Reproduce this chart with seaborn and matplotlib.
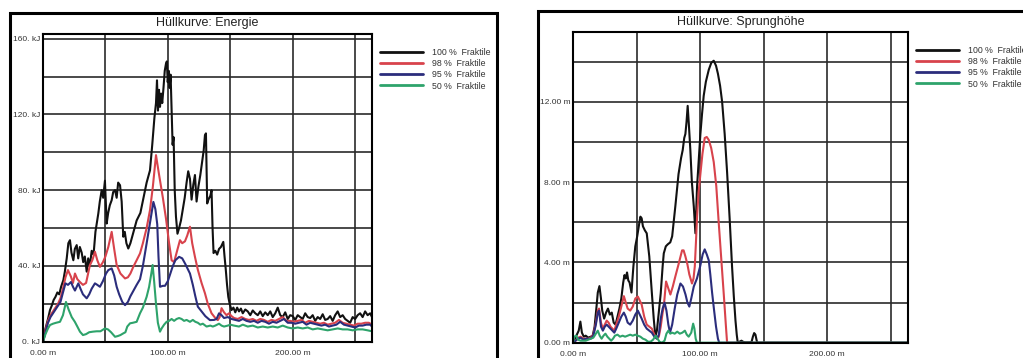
import matplotlib
matplotlib.use("Agg")
import matplotlib.pyplot as plt
import pandas as pd
import seaborn as sns
from matplotlib.patches import Rectangle

sns.set_theme(style="white")
plt.rcParams["font.family"] = ["Liberation Sans", "DejaVu Sans"]

# ---------------- data ----------------
SERIES_LABELS = ["100 %  Fraktile", "98 %  Fraktile", "95 %  Fraktile", "50 %  Fraktile"]
SERIES_COLORS = ["#111111", "#d8434c", "#2b2d7c", "#2ea36b"]

X_TICKS = [0, 50, 100, 150, 200, 250]
X_TICK_LABELS = ["0.00 m", "", "100.00 m", "", "200.00 m", ""]

E_Y_TICKS = [0, 20, 40, 60, 80, 100, 120, 140, 160]
E_Y_TICK_LABELS = ["0. kJ", "", "40. kJ", "", "80. kJ", "", "120. kJ", "", "160. kJ"]

S_Y_TICKS = [0, 2, 4, 6, 8, 10, 12, 14]
S_Y_TICK_LABELS = ["0.00 m", "", "4.00 m", "", "8.00 m", "", "12.00 m", ""]

# Energie (distance m, energy kJ)
ENERGIE_100 = [
    (0, 0), (2, 7), (4, 12), (5.6, 16.7), (7, 19), (8.5, 22), (10, 23.7), (11.5, 26), (13, 25),
    (14.5, 29), (16.3, 32.5), (17.5, 37), (19, 44), (20.3, 52), (21.6, 53.6), (22.8, 47),
    (24.3, 43), (25.5, 49), (27, 51), (28.2, 44), (29.5, 50), (31, 47), (32.2, 42), (33.5, 45),
    (35, 37), (36.2, 44), (37.5, 40), (39, 48), (40.5, 46), (42, 58), (44.3, 67.7), (45.5, 74),
    (47, 80), (48.2, 76), (49.6, 85), (51, 62.4), (52.2, 68), (53.5, 72), (55, 74.7), (56.2, 79),
    (57.7, 80), (59, 76), (60.2, 84), (61.7, 82.6), (63, 74), (64.3, 55.4), (65.5, 58), (66.8, 52),
    (68.3, 49.2), (70, 52), (72.5, 58), (75, 64), (78, 68), (80.5, 76), (83, 84), (85.7, 90.5),
    (87.5, 104), (89.2, 118), (90.5, 126), (91.3, 138), (92.1, 122), (92.9, 133), (93.7, 124),
    (94.6, 131), (95.5, 126), (96.5, 134), (97.5, 143), (98.5, 146.8), (99.2, 148), (99.9, 137),
    (100.7, 143), (101.4, 134), (102.2, 141), (103, 122), (103.8, 104), (104.6, 108), (105.5, 80),
    (106.5, 66), (107.7, 57), (109, 60), (110.5, 64), (112, 70), (113.5, 76), (115, 84),
    (116.3, 90), (117.7, 86), (119, 75), (120.4, 83), (121.7, 88), (123, 74), (124.5, 82),
    (126, 88), (127.5, 95), (128.7, 101), (129.7, 109), (130.5, 110), (131, 92), (131.5, 73),
    (132.5, 75), (134, 77), (135, 80), (135.8, 60), (136.6, 46.8), (138, 48), (139.5, 46),
    (141, 49), (142.5, 50), (144.4, 52.7), (145.4, 45), (146.4, 38), (147.4, 30), (148.4, 23.7),
    (149.5, 20), (151, 16.7), (152.5, 18), (154, 15.5), (155.5, 18), (157, 16), (158.5, 17.5),
    (160, 15), (162, 17), (164, 16), (166, 14), (168, 16.5), (170, 15), (172, 14), (174, 16),
    (176, 13.5), (178, 15.5), (180, 14), (182, 16), (184, 13), (186, 15), (188, 18), (190, 14),
    (192, 13), (194, 15.5), (196, 12), (198, 14), (200, 13.5), (202, 11.5), (204, 14), (206, 13),
    (208, 12), (210, 15), (212, 13), (214, 12.5), (216, 14), (218, 11), (220, 13), (222, 12),
    (224, 14.5), (226, 11.5), (228, 12), (230, 13.5), (232, 11), (234, 14), (236, 16), (238, 13),
    (240, 14), (242, 12), (244, 11), (246, 10), (248, 13), (250, 12), (252, 14), (254, 15),
    (256, 13), (258, 16), (260, 14), (262, 15), (263.5, 13),
]
ENERGIE_98 = [
    (0, 0), (2, 6), (4, 11), (6, 14), (8, 16), (10, 18), (12, 20), (14, 23), (16, 28), (18, 34),
    (20, 37.8), (22.4, 34.3), (24, 31), (25.6, 36), (27.5, 33), (29.6, 31.5), (32, 30), (34.5, 31),
    (37.6, 40.5), (39.5, 43), (41.6, 47.5), (43.5, 43), (45.6, 39.5), (48, 42), (50, 45),
    (52.3, 50), (55, 58), (57, 49), (59, 40.5), (62, 36), (65.7, 33.4), (68, 34), (70, 36),
    (72.3, 39.5), (75, 43), (77.7, 46.6), (80, 52), (83, 60), (85.7, 69.5), (88, 82), (90.5, 98.5),
    (93, 88), (96, 76), (98.5, 65), (101, 52), (103, 43), (105, 42), (107, 47), (109.7, 53.6),
    (111.5, 52), (113.7, 53), (115.5, 56), (117.7, 60.7), (119.5, 52), (121.7, 44.8), (124, 38),
    (127, 31), (129.7, 25.6), (132, 20), (135, 15), (138, 12.5), (140, 11.4), (141.5, 13),
    (143, 17.7), (145, 15.5), (147, 14), (149, 15), (151, 13.5), (153, 12.5), (156, 12), (159, 13),
    (162, 12), (165, 11.5), (168, 12), (171, 11), (174, 12), (177, 11.5), (180, 10.5), (183, 11.5),
    (186, 11), (189, 12), (192, 13), (195, 11), (198, 11), (201, 10.5), (204, 11), (207, 11.5),
    (210, 10), (213, 11), (216, 10.5), (219, 10), (222, 9.5), (225, 10), (228, 9), (231, 9.5),
    (234, 10), (237, 11.5), (240, 10), (243, 9.5), (246, 9), (249, 8.5), (252, 9.5), (255, 9.5),
    (258, 10), (261, 10), (263.5, 9),
]
ENERGIE_95 = [
    (0, 0), (2, 5), (4, 10), (6, 13), (8, 15), (10, 17), (12, 19), (14, 21), (16, 26), (18, 30.8),
    (20, 30), (22.4, 31.5), (24, 29), (25.6, 27), (27, 29), (28.3, 30.8), (30, 28), (32, 25),
    (35, 22.9), (37, 25), (39, 28), (41.6, 30.8), (43.5, 30), (45.6, 29), (48, 32), (50.5, 36),
    (52.3, 37.8), (55, 38.7), (57, 35), (59, 29), (61, 25), (63.5, 21), (65.7, 19.3), (68, 21),
    (70, 24), (72.5, 27), (75, 30), (77.7, 33), (80, 40), (83, 51.9), (86, 64), (88.4, 73.8),
    (90, 70), (91.5, 62), (92.5, 45), (93.7, 29), (96, 29.5), (97.7, 29.5), (100, 32), (102, 36),
    (104, 40), (106, 43), (109, 44.8), (111.5, 44), (114, 41), (117.7, 36), (120, 30), (122, 24),
    (124, 18.5), (127, 16), (130, 13.5), (133.7, 11.4), (137, 11.5), (139, 12), (141, 15),
    (143, 14), (145, 12.5), (148, 13), (151, 12), (154, 11.5), (157, 11), (160, 12), (163, 11),
    (166, 10.5), (169, 11), (172, 10), (175, 11), (178, 10.5), (181, 9.5), (184, 10.5), (187, 10),
    (190, 11), (193, 12), (196, 10), (199, 10), (202, 9.5), (205, 10), (208, 10.5), (211, 9),
    (214, 10), (217, 9.5), (220, 9), (223, 8.5), (226, 9), (229, 8), (232, 8.5), (235, 9),
    (238, 10.5), (241, 9), (244, 8.5), (247, 8), (250, 7.5), (253, 8.5), (256, 8.5), (259, 9),
    (262, 9), (263.5, 8),
]
ENERGIE_50 = [
    (0, 0), (2, 4), (4, 7), (5.6, 8.8), (8, 9.5), (10.5, 10), (13.6, 10.5), (16, 14), (18.4, 21),
    (20.5, 17), (23, 13), (25.5, 10.5), (27.5, 8), (29.6, 5.3), (32, 3.5), (34.5, 4), (37, 5),
    (40, 5.3), (43, 5.5), (46, 5.5), (49.6, 7), (52, 6.5), (54.5, 5), (57.7, 2.6), (60, 3),
    (62, 3.5), (64.3, 4.4), (66, 5), (67.5, 8), (69.7, 9.7), (72, 10), (75, 10.5), (77.7, 15),
    (80, 18), (83, 23.7), (85, 29), (86.5, 35), (87.8, 40.5), (89, 32), (90.5, 20), (92, 10),
    (93.7, 5.3), (95, 7), (97, 9), (99, 10.5), (101, 11), (103, 12), (105, 11), (107, 12),
    (109, 12.5), (111, 12), (113, 11), (115, 11.5), (117.7, 10.5), (120, 11.5), (122, 10.5),
    (124, 10), (126, 9), (128, 9.5), (131, 8), (134, 8.5), (136, 8), (138, 8.5), (141, 9.5),
    (143, 8.5), (145, 8), (148, 8.5), (150, 9), (153, 8.5), (157, 8), (160, 9), (164, 8),
    (168, 8.5), (172, 7.5), (176, 8), (180, 7.5), (184, 8), (188, 7.5), (192, 8.5), (196, 7.5),
    (200, 7), (204, 7.5), (208, 7), (212, 7.5), (216, 6.5), (220, 7), (224, 6.5), (228, 6),
    (232, 6.5), (236, 7), (240, 6.5), (244, 6.5), (248, 6), (252, 6.5), (256, 6.5), (260, 6),
    (263.5, 5.5),
]

# Sprunghoehe (distance m, jump height m)
SPRUNG_100 = [
    (0, 0), (1.5, 0.2), (3, 0.4), (4.5, 0.6), (5.8, 1.05), (7, 0.5), (8.5, 0.3), (10, 0.35),
    (12, 0.25), (14, 0.3), (15.5, 0.35), (17, 0.8), (18.5, 1.8), (19.5, 2.5), (20.8, 2.82),
    (22, 2.2), (23, 1.6), (24.5, 1.2), (26, 1.5), (27.5, 1.7), (29, 1.4), (30.5, 1.5), (32, 1.0),
    (33.5, 0.9), (35, 1.3), (36.5, 1.7), (38, 2.2), (39.5, 3.0), (40.5, 3.37), (41.5, 3.2),
    (42.5, 3.5), (43.5, 3.1), (44.5, 3.0), (46, 2.5), (47.5, 3.8), (49, 4.8), (50.5, 5.3),
    (52, 5.9), (53, 6.28), (54, 6.2), (55, 5.8), (56.5, 5.6), (58, 5.45), (60, 4.3), (62, 2.5),
    (63.5, 1.2), (64.8, 0.3), (66, 0.6), (67.4, 1.46), (69, 2.46), (70.5, 3.8), (71.4, 4.45),
    (73, 4.8), (74.5, 4.9), (76.5, 5.0), (78, 5.3), (80.5, 6.8), (83, 8.4), (85, 9.2), (86.3, 9.6),
    (87.5, 10.2), (88.4, 10.4), (89.3, 11.0), (90.2, 11.8), (91.2, 10.8), (92.3, 9.6), (93.5, 8.0),
    (95, 6.8), (96.3, 5.45), (97.6, 7.8), (99, 9.2), (100.2, 10.4), (101.5, 11.4), (102.8, 12.3),
    (104.5, 13.0), (106.8, 13.6), (108.8, 13.95), (110.7, 14.05), (112.5, 13.8), (114, 13.4),
    (115.7, 12.8), (117.3, 12.0), (119.3, 10.4), (121.2, 8.5), (123.2, 6.2), (125.1, 3.8),
    (126.5, 2.3), (127.8, 1.1), (128.8, 0.4), (129.6, 0), (131, 0.05), (132.5, 0.1), (134, 0.04),
    (135.5, 0.02), (139, 0.02), (140.5, 0.05), (141.5, 0.3), (142.5, 0.48), (143.5, 0.4),
    (144.5, 0.1), (145, 0), (150, 0), (263.5, 0),
]
SPRUNG_98 = [
    (0, 0), (2, 0.1), (4, 0.25), (6, 0.3), (8, 0.2), (10, 0.2), (12, 0.2), (14, 0.25), (16, 0.4),
    (18, 1.0), (19.5, 1.6), (20.5, 1.7), (22, 1.0), (23.5, 0.7), (25, 0.9), (26.5, 1.1), (28, 1.0),
    (29.5, 0.8), (31, 0.7), (32.5, 0.6), (34, 0.9), (36, 1.3), (38, 1.8), (40, 2.32), (41.5, 2.0),
    (43, 1.7), (45, 1.6), (47, 1.8), (49, 2.2), (51, 2.3), (52.5, 2.1), (54, 1.9), (56, 1.3),
    (58, 0.9), (60, 0.8), (62, 0.7), (64, 0.4), (66, 0.2), (67.5, 0.3), (69, 0.8), (70.5, 1.5),
    (71.4, 1.8), (73.2, 3.05), (75, 2.7), (76.6, 2.4), (78.5, 2.8), (80.5, 3.3), (83, 3.9),
    (85.8, 4.6), (87, 4.6), (88.4, 4.3), (90, 3.9), (91.5, 3.4), (93.6, 2.95), (94.8, 3.2),
    (95.8, 3.8), (96.7, 5.0), (97.6, 6.3), (98.8, 7.5), (100.2, 8.4), (101.8, 9.4), (103.6, 10.2),
    (105.2, 10.25), (106.8, 10.1), (108.7, 9.7), (110.7, 9.0), (112.7, 7.8), (114.6, 6.0),
    (116.6, 4.2), (118.6, 2.4), (120.2, 0.9), (121.2, 0), (263.5, 0),
]
SPRUNG_95 = [
    (0, 0), (2, 0.1), (4, 0.2), (6, 0.25), (8, 0.15), (10, 0.2), (12, 0.2), (14, 0.2), (16, 0.35),
    (18, 0.9), (19.5, 1.5), (20.5, 1.6), (22, 0.8), (23.5, 0.6), (25, 0.8), (26.5, 0.9), (28, 0.8),
    (29.5, 0.7), (31, 0.6), (32.5, 0.5), (34, 0.7), (36, 1.0), (38, 1.3), (40, 1.5), (41.5, 1.3),
    (43, 1.0), (45, 0.9), (47, 1.1), (49, 1.4), (51, 1.6), (52.5, 1.4), (54, 1.2), (56, 0.9),
    (58, 0.7), (60, 0.6), (62, 0.5), (64, 0.3), (66, 0.2), (67.5, 0.4), (69, 1.2), (70.5, 1.7),
    (72, 2.0), (73.5, 1.6), (75, 0.9), (76.3, 0.5), (78, 0.9), (80, 1.7), (82, 2.4), (84.5, 2.95),
    (86.5, 2.8), (88.5, 2.4), (90, 2.0), (91.5, 1.8), (93, 2.2), (95, 2.8), (97.5, 3.2),
    (100, 3.8), (102, 4.4), (103.6, 4.65), (105.2, 4.4), (106.8, 4.1), (108, 3.4), (109.4, 2.5),
    (111, 1.6), (112.5, 0.8), (114, 0.2), (115, 0), (263.5, 0),
]
SPRUNG_50 = [
    (0, 0), (1, 0.3), (2.5, 0.35), (4, 0.15), (6, 0.1), (8, 0.1), (10, 0.1), (12, 0.15),
    (14, 0.2), (16, 0.25), (18, 0.45), (19.5, 0.6), (21, 0.35), (22.5, 0.2), (24, 0.35),
    (25.5, 0.45), (27, 0.3), (28.5, 0.2), (30, 0.1), (31.5, 0.2), (33, 0.35), (35, 0.4), (37, 0.3),
    (39, 0.35), (41, 0.3), (43, 0.35), (45, 0.4), (47, 0.35), (49, 0.4), (51, 0.35), (53, 0.3),
    (55, 0.2), (57, 0.15), (59, 0.05), (61, 0.05), (63, 0.15), (65, 0.35), (66.5, 0.2), (68, 0.05),
    (70, 0.0), (72, 0.1), (73.5, 0.45), (75, 0.6), (76.5, 0.45), (78, 0.5), (80, 0.45), (82, 0.55),
    (84, 0.45), (86, 0.5), (88, 0.6), (89.5, 0.4), (91, 0.3), (93, 0.5), (94.5, 0.95), (95.5, 0.7),
    (96.5, 0.2), (97.5, 0), (263.5, 0),
]

# ---------------- figure ----------------
W, H = 1023, 358
fig = plt.figure(figsize=(W / 100, H / 100), dpi=100)
fig.patch.set_facecolor("white")

ax1 = fig.add_axes([43 / W, 16.3 / H, 329 / W, 307.4 / H])
ax2 = fig.add_axes([573 / W, 15.3 / H, 335 / W, 310.7 / H])

# outer panel frames
for (x0, x1, top) in [(9.5, 497, 12.5), (538, 1040, 10.5)]:
    fig.patches.append(Rectangle((x0 / W, -0.1), (x1 - x0) / W, (H - top) / H + 0.1,
                                 transform=fig.transFigure, fill=False, ec="black",
                                 lw=2.2, clip_on=False, zorder=10))


def draw(ax, series, title, yticks, yticklabels, ylim, title_pad, leg_anchor):
    for pts, lab, col in zip(series, SERIES_LABELS, SERIES_COLORS):
        df = pd.DataFrame(pts, columns=["x", "y"])
        sns.lineplot(data=df, x="x", y="y", ax=ax, color=col, lw=1.5, label=lab,
                     estimator=None, sort=False)
    ax.set_xlim(0, 263.5)
    ax.set_ylim(*ylim)
    ax.set_xticks(X_TICKS)
    ax.set_xticklabels(X_TICK_LABELS)
    ax.set_yticks(yticks)
    ax.set_yticklabels(yticklabels)
    ax.set_xlabel("")
    ax.set_ylabel("")
    ax.grid(True, color="#2a2a2a", lw=1.2)
    ax.set_axisbelow(True)
    for s in ax.spines.values():
        s.set_visible(True)
        s.set_color("black")
        s.set_linewidth(1.5)
    ax.tick_params(axis="x", length=0, pad=6.0, labelsize=6.1, labelcolor="#333333")
    ax.tick_params(axis="y", length=0, pad=2, labelsize=6.0, labelcolor="#333333")
    ax.set_title(title, fontsize=9, color="#222222", pad=title_pad)
    leg = ax.legend(loc="upper left", bbox_to_anchor=leg_anchor, frameon=False,
                    borderaxespad=0, borderpad=0, fontsize=6.3, handlelength=4.9,
                    handletextpad=1.0, labelspacing=0.25)
    for h in leg.legend_handles:
        h.set_linewidth(2.0)
    for t in leg.get_texts():
        t.set_color("#333333")


draw(ax1, [ENERGIE_100, ENERGIE_98, ENERGIE_95, ENERGIE_50], "Hüllkurve: Energie",
     E_Y_TICKS, E_Y_TICK_LABELS, (0, 162.3), 6.0, (1.0243, 0.9555))
draw(ax2, [SPRUNG_100, SPRUNG_98, SPRUNG_95, SPRUNG_50], "Hüllkurve: Sprunghöhe",
     S_Y_TICKS, S_Y_TICK_LABELS, (0, 15.48), 5.0, (1.0239, 0.955))

fig.savefig("out.png", dpi=100, facecolor="white")
